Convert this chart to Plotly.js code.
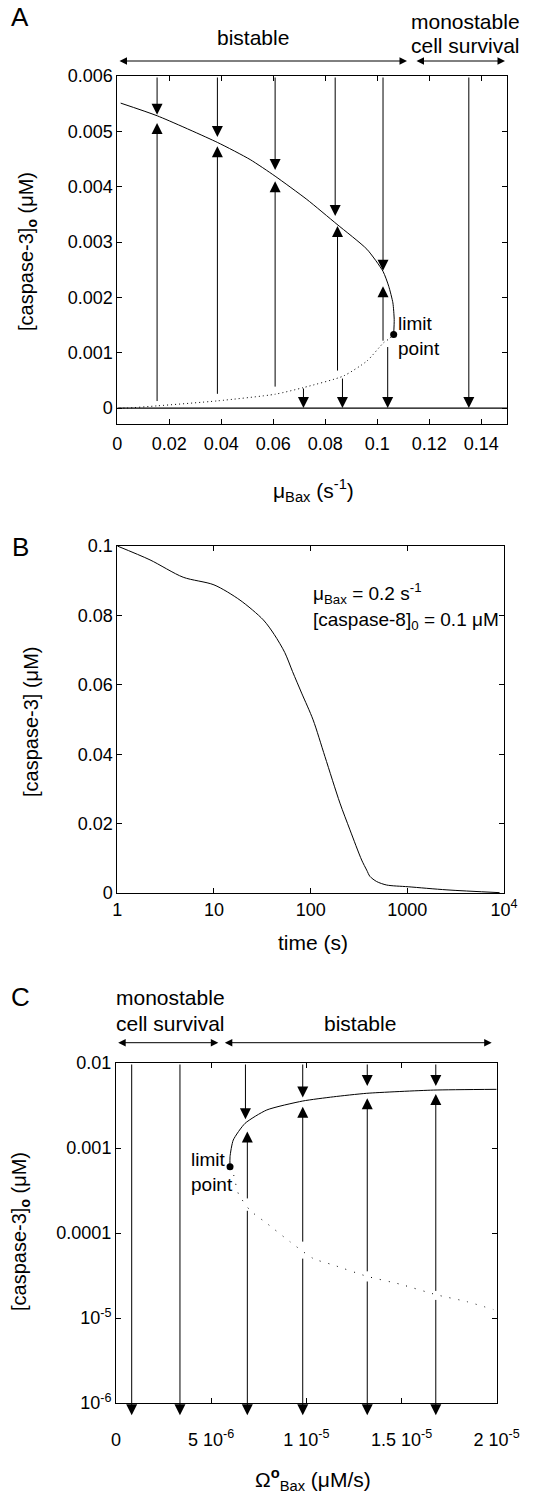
<!DOCTYPE html>
<html><head><meta charset="utf-8">
<script src="https://cdn.plot.ly/plotly-3.0.1.min.js"></script>
<style>html,body{margin:0;padding:0;background:#fff}</style>
</head><body><div id="chart" style="width:554px;height:1498px"></div>
<script>
// ---------- Panel A data ----------
const aUpperX = [0.0013, 0.0154, 0.0385, 0.0511, 0.0607, 0.0729, 0.0845, 0.0960, 0.1022, 0.1044, 0.1060, 0.1065, 0.1063];
const aUpperY = [0.00551, 0.00528, 0.00480, 0.00449, 0.00419, 0.00377, 0.00332, 0.00287, 0.00247, 0.00220, 0.00190, 0.00160, 0.00133];
const aUnstX = [0.1063, 0.1045, 0.1024, 0.0960, 0.0870, 0.0716, 0.0607, 0.0385, 0.0153, 0.0036, 0.0];
const aUnstY = [0.00133, 0.00125, 0.00118, 0.00085, 0.00058, 0.00037, 0.00025, 0.00013, 0.00004, 0.0, 0.0];
const aStableLowX = [0, 0.15];
const aStableLowY = [0, 0];
const aLimit = [0.1063, 0.00133];
const aXTicks = [0, 0.02, 0.04, 0.06, 0.08, 0.1, 0.12, 0.14];
const aXTickText = ['0', '0.02', '0.04', '0.06', '0.08', '0.1', '0.12', '0.14'];
const aYTicks = [0, 0.001, 0.002, 0.003, 0.004, 0.005, 0.006];
const aYTickText = ['0', '0.001', '0.002', '0.003', '0.004', '0.005', '0.006'];
// arrows: from top down to the high branch
const aDownX = [0.0153, 0.0385, 0.0607, 0.0838, 0.1022];
const aDownTip = [0.0053, 0.0049, 0.0043, 0.00347, 0.00248];
// arrows: from unstable branch up to the high branch
const aUpX = [0.0153, 0.0385, 0.0607, 0.0847, 0.1022];
const aUpTail = [0.0001, 0.00023, 0.00036, 0.00065, 0.00119];
const aUpTip = [0.00515, 0.00473, 0.0041, 0.00329, 0.0022];
// arrows: down to zero
const aZeroX = [0.0716, 0.0866, 0.104, 0.1352];
const aZeroTail = [0.00038, 0.00056, 0.00113, 0.006];

// ---------- Panel B data ----------
const bTime = [1, 2.18, 4.8, 10, 18.6, 32.4, 42, 54, 65, 80.7, 106, 140.6, 201, 255, 337, 380, 410, 482, 611, 1020, 2570, 9000];
const bCasp3 = [0.1, 0.096, 0.091, 0.0888, 0.0844, 0.0787, 0.0745, 0.0693, 0.0638, 0.0576, 0.0499, 0.0393, 0.0259, 0.0182, 0.0095, 0.0066, 0.0048, 0.0033, 0.0023, 0.0018, 0.0009, 0.0001];
const bXTicks = [1, 10, 100, 1000, 10000];
const bXTickText = ['1', '10', '100', '1000', '10<sup>4</sup>'];
const bYTicks = [0, 0.02, 0.04, 0.06, 0.08, 0.1];
const bYTickText = ['0', '0.02', '0.04', '0.06', '0.08', '0.1'];

// ---------- Panel C data ----------
const cUpperX = [5.99e-6, 5.99e-6, 6.16e-6, 6.78e-6, 7.92e-6, 9.81e-6, 1.142e-5, 1.317e-5, 1.667e-5, 2.0e-5];
const cUpperY = [6.0e-4, 7.9e-4, 1.24e-3, 1.95e-3, 2.8e-3, 3.57e-3, 4.0e-3, 4.4e-3, 4.8e-3, 4.9e-3];
const cUnstX = [5.99e-6, 6.16e-6, 6.43e-6, 7.04e-6, 7.92e-6, 9.14e-6, 1.037e-5, 1.142e-5, 1.317e-5, 1.492e-5, 1.686e-5, 1.842e-5, 1.982e-5];
const cUnstY = [6.0e-4, 5.0e-4, 2.9e-4, 1.85e-4, 1.3e-4, 7.9e-5, 5.0e-5, 4.2e-5, 3.1e-5, 2.5e-5, 1.87e-5, 1.56e-5, 1.26e-5];
const cLimit = [5.99e-6, 6.0e-4];
const cXTicks = [0, 5e-6, 1e-5, 1.5e-5, 2e-5];
const cXTickText = ['0', '5 10<sup>-6</sup>', '1 10<sup>-5</sup>', '1.5 10<sup>-5</sup>', '2 10<sup>-5</sup>'];
const cYTicks = [1e-6, 1e-5, 1e-4, 1e-3, 1e-2];
const cYTickText = ['10<sup>-6</sup>', '10<sup>-5</sup>', '0.0001', '0.001', '0.01'];
// arrows from top to below the axis (to zero)
const cTopX = [8.25e-7, 3.36e-6];
// arrows from top down to the high branch
const cDownX = [6.80e-6, 9.81e-6, 1.32e-5, 1.68e-5];
const cDownTip = [0.00218, 0.00394, 0.00536, 0.00536];
// arrows from unstable branch up to the high branch
const cUpX = [6.90e-6, 9.81e-6, 1.32e-5, 1.68e-5];
const cUpTail = [2.45e-4, 7.6e-5, 3.4e-5, 2.0e-5];
const cUpTip = [0.00156, 0.00306, 0.00385, 0.00432];
// arrows from unstable branch down to zero
const cBotX = [6.90e-6, 9.81e-6, 1.32e-5, 1.68e-5];
const cBotTail = [1.9e-4, 5.2e-5, 2.8e-5, 1.7e-5];
const cZeroTip = 7.2e-7;  // below the log axis (zero)
const cTopVal = 0.01;

// ---------- layout helpers ----------
const W = 554, H = 1498;
const px = v => v / W;
const py = v => 1 - v / H;
const FONT = 'Liberation Sans, Arial, Helvetica, sans-serif';

const axBase = {
  showline: true, linecolor: '#000', linewidth: 1, mirror: 'ticks',
  ticks: 'inside', ticklen: 5, tickcolor: '#000', tickwidth: 1,
  showgrid: false, zeroline: false, automargin: false,
  tickfont: {family: FONT, size: 18, color: '#000'}
};

const traces = [
  // A
  {x: aUpperX, y: aUpperY, xaxis: 'x', yaxis: 'y', mode: 'lines', line: {color: '#000', width: 1, shape: 'spline', smoothing: 0.6}},
  {x: aUnstX, y: aUnstY, xaxis: 'x', yaxis: 'y', mode: 'lines', line: {color: '#000', width: 1, dash: '1px,3px', shape: 'spline', smoothing: 0.6}},
  {x: aStableLowX, y: aStableLowY, xaxis: 'x', yaxis: 'y', mode: 'lines', line: {color: '#000', width: 1.3}},
  {x: [aLimit[0]], y: [aLimit[1]], xaxis: 'x', yaxis: 'y', mode: 'markers', marker: {color: '#000', size: 7}},
  // B
  {x: bTime, y: bCasp3, xaxis: 'x2', yaxis: 'y2', mode: 'lines', line: {color: '#000', width: 1, shape: 'spline', smoothing: 0.8}},
  // C
  {x: cUpperX, y: cUpperY, xaxis: 'x3', yaxis: 'y3', mode: 'lines', line: {color: '#000', width: 1, shape: 'spline', smoothing: 0.6}},
  {x: cUnstX, y: cUnstY, xaxis: 'x3', yaxis: 'y3', mode: 'lines', line: {color: '#000', width: 1, dash: '1px,8px', shape: 'spline', smoothing: 0.6}},
  {x: [cLimit[0]], y: [cLimit[1]], xaxis: 'x3', yaxis: 'y3', mode: 'markers', marker: {color: '#000', size: 7}}
];

const ann = [];
function vArrow(xref, yref, x, tail, tip) {
  ann.push({xref: xref, yref: yref, axref: xref, ayref: yref, x: x, y: tip, ax: x, ay: tail,
    text: '', showarrow: true, arrowhead: 2, arrowsize: 2.2, arrowwidth: 1, arrowcolor: '#000', standoff: 0, startstandoff: 0});
}
aDownX.forEach((x, i) => vArrow('x', 'y', x, 0.006, aDownTip[i]));
aUpX.forEach((x, i) => vArrow('x', 'y', x, aUpTail[i], aUpTip[i]));
aZeroX.forEach((x, i) => vArrow('x', 'y', x, aZeroTail[i], 0));
const L = Math.log10;
cTopX.forEach(x => vArrow('x3', 'y3', x, L(cTopVal), L(cZeroTip)));
cDownX.forEach((x, i) => vArrow('x3', 'y3', x, L(cTopVal), L(cDownTip[i])));
cUpX.forEach((x, i) => vArrow('x3', 'y3', x, L(cUpTail[i]), L(cUpTip[i])));
cBotX.forEach((x, i) => vArrow('x3', 'y3', x, L(cBotTail[i]), L(cZeroTip)));

function txt(text, x, y, size, opts) {
  ann.push(Object.assign({xref: 'paper', yref: 'paper', x: px(x), y: py(y), text: text, showarrow: false,
    xanchor: 'center', yanchor: 'middle', font: {family: FONT, size: size, color: '#000'}}, opts || {}));
}
function hArrow(x0, x1, y) {
  ann.push({xref: 'paper', yref: 'paper', x: px(x1), y: py(y), axref: 'pixel', ayref: 'pixel', ax: -(x1 - x0), ay: 0,
    text: '', showarrow: true, arrowhead: 2, startarrowhead: 2, arrowside: 'end+start', arrowsize: 1.5, startarrowsize: 1.5,
    arrowwidth: 1, arrowcolor: '#000', standoff: 0, startstandoff: 0});
}

// panel letters
txt('A', 20, 17, 26);
txt('B', 20, 547, 26);
txt('C', 20, 997, 26);

// A texts
txt('bistable', 253, 38, 21);
txt('monostable', 465, 22, 21);
txt('cell survival', 465, 45, 21);
hArrow(118, 407, 61);
hArrow(415, 505, 61);
txt('limit<br>point', 396, 336, 19, {xanchor: 'left', align: 'left'});
txt('μ<sub>Bax</sub> (s<sup>-1</sup>)', 313, 491, 21);
txt('[caspase-3]<sub><b>o</b></sub> (μM)', 27, 252, 20, {textangle: -90});

// B texts
txt('μ<sub>Bax</sub> = 0.2 s<sup>-1</sup>', 311, 593, 19, {xanchor: 'left', align: 'left'});
txt('[caspase-8]<sub>0</sub> = 0.1 μM', 311, 621, 19, {xanchor: 'left', align: 'left'});
txt('time (s)', 313, 942, 21);
txt('[caspase-3] (μM)', 31, 722, 20, {textangle: -90});

// C texts
txt('monostable', 170, 997, 21);
txt('cell survival', 170, 1023, 21);
txt('bistable', 360, 1023, 21);
hArrow(116.7, 218.3, 1042.7);
hArrow(223.3, 491.7, 1042.7);
txt('limit<br>point', 189, 1172, 19, {xanchor: 'left', align: 'left'});
txt('Ω<sup><b>o</b></sup><sub>Bax</sub> (μM/s)', 313, 1479, 21);
txt('[caspase-3]<sub><b>o</b></sub> (μM)', 20, 1232, 20, {textangle: -90});

const layout = {
  width: W, height: H, margin: {l: 0, r: 0, t: 0, b: 0},
  paper_bgcolor: '#fff', plot_bgcolor: '#fff', showlegend: false,
  font: {family: FONT, color: '#000'},
  xaxis: Object.assign({}, axBase, {domain: [px(117.3), px(507.3)], range: [0, 0.15], tickvals: aXTicks, ticktext: aXTickText, anchor: 'y', ticklabelstandoff: 3}),
  yaxis: Object.assign({}, axBase, {domain: [py(424), py(76)], range: [-0.000288, 0.006], tickvals: aYTicks, ticktext: aYTickText, anchor: 'x'}),
  xaxis2: Object.assign({}, axBase, {domain: [px(117.3), px(504)], type: 'log', range: [0, 4], tickvals: bXTicks, ticktext: bXTickText, anchor: 'y2'}),
  yaxis2: Object.assign({}, axBase, {domain: [py(893), py(546)], range: [0, 0.1], tickvals: bYTicks, ticktext: bYTickText, anchor: 'x2'}),
  xaxis3: Object.assign({}, axBase, {domain: [px(116), px(496.7)], range: [0, 2e-5], tickvals: cXTicks, ticktext: cXTickText, anchor: 'y3', ticklabelstandoff: 20}),
  yaxis3: Object.assign({}, axBase, {domain: [py(1403), py(1063)], type: 'log', range: [-6, -2], tickvals: cYTicks, ticktext: cYTickText, anchor: 'x3'}),
  annotations: ann
};

Plotly.newPlot('chart', traces, layout, {staticPlot: true, displayModeBar: false});
</script>
</body></html>
